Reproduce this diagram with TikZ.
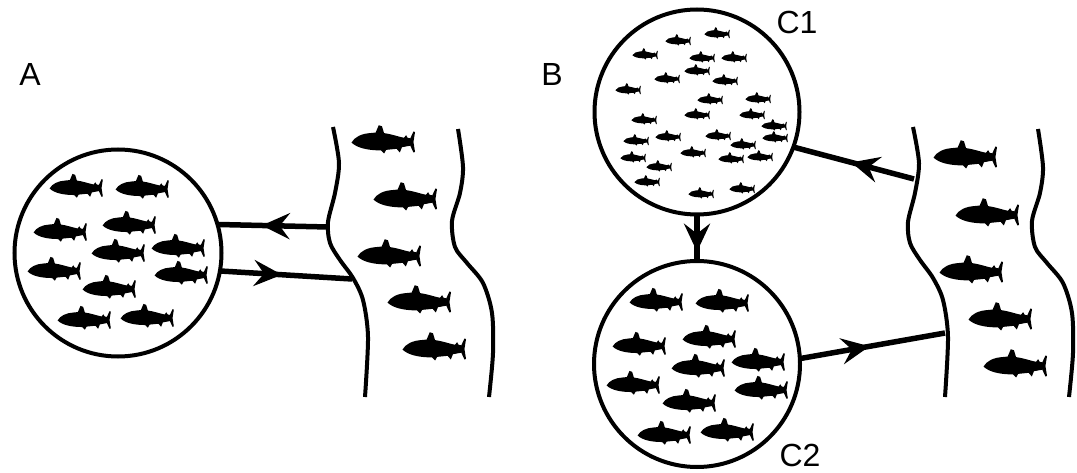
\documentclass[tikz,border=0pt]{standalone}
\usepackage{fontspec}
\setmainfont{Liberation Sans}
\usetikzlibrary{arrows.meta,decorations.markings}
\tikzstyle{pond}=[draw, circle, line width=4pt, inner sep=0pt, outer sep=0pt]
\tikzstyle{bank}=[line width=4pt]
\tikzstyle{lbl}=[font=\fontsize{32}{38}\selectfont, inner sep=0pt]
\tikzset{flow/.style={line width=5.5pt, postaction={decorate},
	decoration={markings, mark=at position #1 with {\arrow{Stealth[length=28pt,width=26pt,inset=10pt]}}}}}
% one trout, nose left, centred at #1, length 60*#2
\newcommand{\trout}[2]{
	\fill[shift={#1}, scale=#2] (-30,0.5)
		.. controls (-27,-5) and (-20,-8) .. (-12,-8.5) -- (-7,-9) -- (-4,-16) -- (-1,-15) -- (1,-8.5)
		.. controls (8,-7.5) and (15,-5) .. (20,-4) -- (22,-6.5) -- (23.5,-4) -- (26,-3.5)
		-- (29,-10) -- (30.5,-9.5) -- (29,0) -- (30.5,9.5) -- (29,10) -- (26,3.5)
		-- (18,5) -- (16,10) -- (13,6.5) -- (3,7.5) -- (1,11) -- (-2,8)
		.. controls (-15,8) and (-25,5.5) .. cycle;
}
% both banks of a stream, shifted right by #1
\newcommand{\stream}[1]{
	\begin{scope}[shift={(#1,0)}]
		\draw[bank] plot[smooth] coordinates {(333,127) (339,163) (335,193) (328,222) (330,243) (340,260) (353,278) (363,300) (368,337) (365,397)};
		\draw[bank] plot[smooth] coordinates {(458,129) (463,167) (460,193) (452,221) (455,247) (467,263) (483,283) (492,313) (493,353) (489,397)};
	\end{scope}
}

\begin{document}
\begin{tikzpicture}[x=1pt, y=-1pt]
	\useasboundingbox (0,0) rectangle (1077,473);
	% A
	\node[lbl] (labA) at (30,74) {A};
	\node[pond, minimum size=207pt] (cA) at (118,253) {};
	\stream{0}
	\coordinate (rA1) at (328,227);
	\coordinate (rA2) at (352,279);
	\draw[flow=.6] (rA1) -- (cA.16);
	\draw[flow=.47] (cA.-10) -- (rA2);
	\foreach \x/\y in {76/188, 142/189, 60/232, 129/225, 178/248, 118/253, 54/271, 181/275, 109/289, 84/320, 147/318}
		\trout{(\x,\y)}{.88};
	\foreach \x/\y in {383/142, 405/199, 389/256, 419/302, 434/349}
		\trout{(\x,\y)}{1.05};
	% B
	\node[lbl] (labB) at (552,74) {B};
	\node[pond, minimum size=205pt] (c1) at (697,112) {};
	\node[pond, minimum size=206pt] (c2) at (697,364) {};
	\node[lbl] (labC1) at (797,22) {C1};
	\node[lbl] (labC2) at (800,455) {C2};
	\stream{580}
	\coordinate (rB1) at (914,179);
	\coordinate (rB2) at (945,333);
	\draw[flow=.8] (c1) -- (c2);
	\draw[flow=.52] (rB1) -- (c1.-20);
	\draw[flow=.48] (c2.3) -- (rB2);
	\foreach \x/\y in {717/34, 678/41, 645/55, 702/58, 734/58, 697/71, 667/79, 725/81, 628/90, 710/100, 758/99, 644/120, 697/115, 752/115, 774/126, 636/141, 668/137, 718/136, 775/138, 743/145, 633/158, 693/153, 731/159, 760/157, 659/167, 647/182, 742/189, 701/194}
		\trout{(\x,\y)}{.42};
	\foreach \x/\y in {656/302, 722/303, 639/346, 709/339, 758/362, 698/368, 633/385, 761/390, 689/403, 664/435, 727/432}
		\trout{(\x,\y)}{.88};
	\foreach \x/\y in {965/157, 987/215, 971/272, 1000/319, 1015/366}
		\trout{(\x,\y)}{1.05};
\end{tikzpicture}
\end{document}
